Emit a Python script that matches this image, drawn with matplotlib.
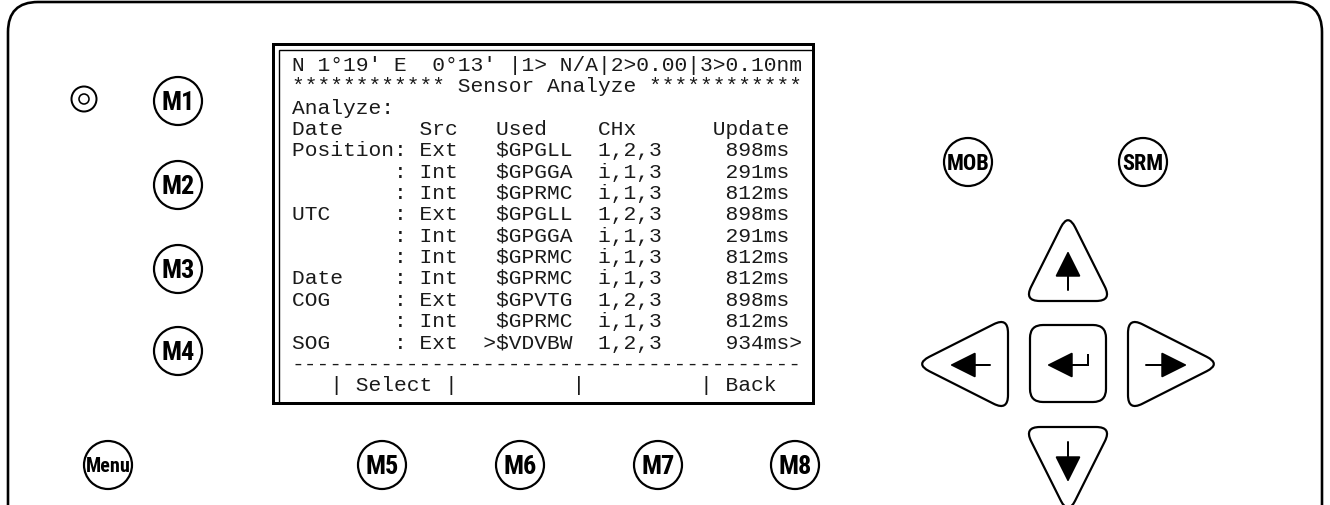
import matplotlib
matplotlib.use('Agg')
import matplotlib.pyplot as plt
from matplotlib.path import Path
from matplotlib.patches import PathPatch, Circle, Rectangle
from matplotlib import font_manager as fm
import numpy as np

# ---------------- content ----------------
screen_rows = [
    "N 1°19' E  0°13' |1> N/A|2>0.00|3>0.10nm",
    "************ Sensor Analyze ************",
    "Analyze:",
    "Date      Src   Used    CHx      Update",
    "Position: Ext   $GPGLL  1,2,3     898ms",
    "        : Int   $GPGGA  i,1,3     291ms",
    "        : Int   $GPRMC  i,1,3     812ms",
    "UTC     : Ext   $GPGLL  1,2,3     898ms",
    "        : Int   $GPGGA  i,1,3     291ms",
    "        : Int   $GPRMC  i,1,3     812ms",
    "Date    : Int   $GPRMC  i,1,3     812ms",
    "COG     : Ext   $GPVTG  1,2,3     898ms",
    "        : Int   $GPRMC  i,1,3     812ms",
    "SOG     : Ext  >$VDVBW  1,2,3     934ms>",
    "----------------------------------------",
    "   | Select |         |         | Back",
]
left_buttons = ["M1", "M2", "M3", "M4"]
bottom_buttons = ["Menu", "M5", "M6", "M7", "M8"]
right_buttons = ["MOB", "SRM"]

# ---------------- fonts ----------------
def find_condensed_bold():
    prefs = ['liberation sans narrow', 'roboto condensed', 'dejavu sans condensed',
             'noto sans condensed', 'open sans condensed', 'arial narrow']
    cands = []
    for f in fm.fontManager.ttflist:
        nm = f.name.lower()
        fn = f.fname.lower()
        st = f.stretch
        is_cond = ('narrow' in nm or 'condensed' in nm or 'condensed' in fn or 'narrow' in fn
                   or (isinstance(st, str) and 'condensed' in st)
                   or (isinstance(st, (int, float)) and st < 100))
        w = f.weight
        is_bold = (w in ('bold', 'heavy', 'black', 'demibold', 'semibold')
                   or (isinstance(w, (int, float)) and w >= 600) or 'bold' in fn)
        if is_cond and is_bold and 'italic' not in fn and 'oblique' not in fn and f.style == 'normal':
            rank = len(prefs)
            for i, p in enumerate(prefs):
                if p in nm or p.replace(' ', '') in fn.replace('-', '').replace('_', ''):
                    rank = i
                    break
            if 'mono' in nm or 'serif' in nm:
                rank += 20
            cands.append((rank, f.fname))
    if cands:
        cands.sort()
        return cands[0][1]
    return None


cond_path = find_condensed_bold()


def btn_props(size):
    if cond_path:
        return fm.FontProperties(fname=cond_path, size=size)
    return fm.FontProperties(family='Liberation Sans', weight='bold', size=size * 0.85)


# ---------------- figure ----------------
W, H = 1330, 506
fig = plt.figure(figsize=(13.3, 5.06), dpi=100)
ax = fig.add_axes([0, 0, 1, 1])
ax.set_xlim(0, W)
ax.set_ylim(H, 0)
ax.axis('off')

PX = 0.72  # points per pixel


def rounded_path(pts, r):
    pts = [np.array(p, float) for p in pts]
    n = len(pts)
    verts, codes = [], []
    for i in range(n):
        p0, p1, p2 = pts[i - 1], pts[i], pts[(i + 1) % n]
        d1 = (p0 - p1) / np.linalg.norm(p0 - p1)
        d2 = (p2 - p1) / np.linalg.norm(p2 - p1)
        a, b = p1 + d1 * r, p1 + d2 * r
        verts.append(a)
        codes.append(Path.MOVETO if i == 0 else Path.LINETO)
        verts += [p1, b]
        codes += [Path.CURVE3, Path.CURVE3]
    verts.append(verts[0])
    codes.append(Path.CLOSEPOLY)
    return Path(verts, codes)


def draw_shape(pts, r, lw=2.2):
    ax.add_patch(PathPatch(rounded_path(pts, r), fill=False, ec='black',
                           lw=lw * PX, joinstyle='round'))


# outer panel (open at bottom)
L, R, T, rc = 8, 1322, 3, 30
verts = [(L, H + 5), (L, T + rc), (L, T), (L + rc, T), (R - rc, T), (R, T), (R, T + rc), (R, H + 5)]
codes = [Path.MOVETO, Path.LINETO, Path.CURVE3, Path.CURVE3, Path.LINETO, Path.CURVE3, Path.CURVE3, Path.LINETO]
ax.add_patch(PathPatch(Path(verts, codes), fill=False, ec='black', lw=2.6 * PX))

# screen frame: thick outer rectangle + inner line along top and left
ax.add_patch(Rectangle((273, 45), 540, 359, fill=False, ec='black', lw=3 * PX))
ax.plot([279, 279, 813], [404, 51, 51], color='black', lw=1.4 * PX, solid_joinstyle='miter')

# screen text
for i, row in enumerate(screen_rows):
    ax.text(291.5, 71 + 21.35 * i, row, family='Liberation Mono', fontsize=15.27,
            ha='left', va='baseline', color='#1a1a1a')

# LED ring
ax.add_patch(Circle((84, 100), 12.5, fill=False, ec='black', lw=2 * PX))
ax.add_patch(Circle((84, 100), 5, fill=False, ec='black', lw=1.6 * PX))


def circle_button(x, y, label, r=24, fs=19):
    ax.add_patch(Circle((x, y), r, fill=False, ec='black', lw=2.2 * PX))
    ax.text(x, y + 1, label, fontproperties=btn_props(fs), ha='center', va='center',
            color='black')


left_y = [102, 186, 270, 352]
for lab, y in zip(left_buttons, left_y):
    circle_button(178, y, lab)

bottom_x = [108, 382, 520, 658, 795]
for lab, x in zip(bottom_buttons, bottom_x):
    circle_button(x, 466, lab, fs=14.5 if lab == "Menu" else 19)

right_x = [968, 1143]
for lab, x in zip(right_buttons, right_x):
    circle_button(x, 163, lab, fs=16)

# navigation pad
cx = 1068
draw_shape([(cx, 214), (cx + 44, 302), (cx - 44, 302)], 16)      # up
draw_shape([(cx - 44, 428), (cx + 44, 428), (cx, 516)], 16)      # down
draw_shape([(1128, 318), (1221, 365), (1128, 412)], 16)          # right
draw_shape([(1008, 318), (1008, 412), (915, 365)], 16)           # left
draw_shape([(1030, 326), (1106, 326), (1106, 403), (1030, 403)], 13)  # enter

ak = dict(arrowstyle='-|>,head_length=0.9,head_width=0.45', color='black', lw=2 * PX,
          mutation_scale=18, shrinkA=0, shrinkB=0)
ax.annotate('', xy=(cx, 252), xytext=(cx, 291), arrowprops=ak)
ax.annotate('', xy=(cx, 483), xytext=(cx, 443), arrowprops=ak)
ax.annotate('', xy=(1187, 366), xytext=(1146, 366), arrowprops=ak)
ax.annotate('', xy=(950, 366), xytext=(990, 366), arrowprops=ak)
ax.plot([1088, 1088, 1062], [356, 366, 366], color='black', lw=2 * PX, solid_joinstyle='miter')
ax.annotate('', xy=(1047, 366), xytext=(1070, 366), arrowprops=ak)

fig.savefig('out.png', dpi=100)
